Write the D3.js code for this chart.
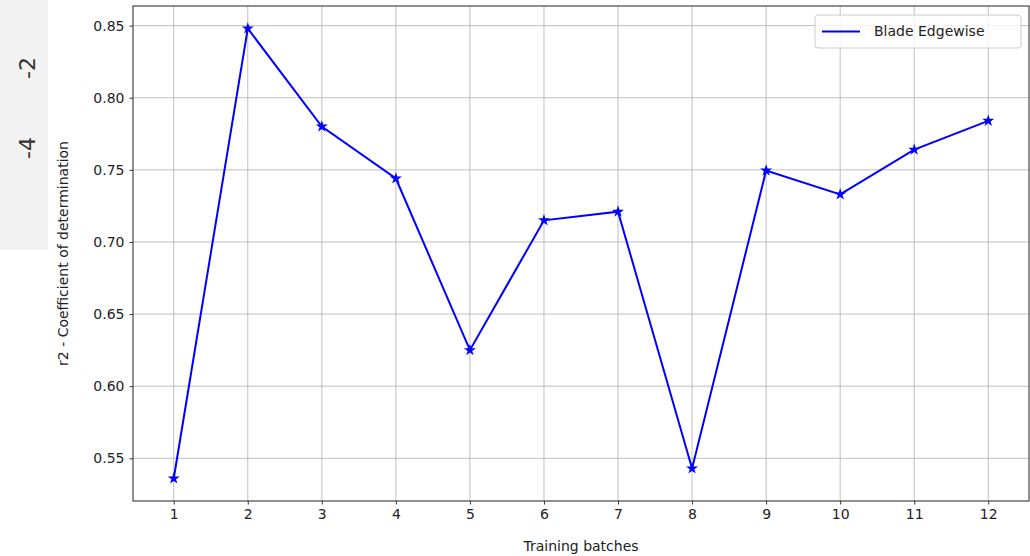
<!DOCTYPE html>
<html>
<head>
<meta charset="utf-8">
<script src="https://cdn.jsdelivr.net/npm/d3@7"></script>
<style>
  html, body { margin: 0; padding: 0; background: #fff; }
  svg { display: block; font-family: "DejaVu Sans", sans-serif; }
</style>
</head>
<body>
<svg id="chart" width="1030" height="556"></svg>
<script>
// data
const batches = [1, 2, 3, 4, 5, 6, 7, 8, 9, 10, 11, 12];
const r2 = [0.536, 0.848, 0.780, 0.744, 0.625, 0.715, 0.721, 0.543, 0.7495, 0.733, 0.764, 0.784];
const yTicks = [0.55, 0.60, 0.65, 0.70, 0.75, 0.80, 0.85];
const seriesName = 'Blade Edgewise';
const sideLabels = ['-2', '-4'];

const svg = d3.select('#chart');
const margin = { left: 133, top: 6, right: 1, bottom: 55 };
const W = 1030, H = 556;
const plotW = W - margin.left - margin.right;
const plotH = H - margin.top - margin.bottom;

// leftover panel on the far left
svg.append('rect')
  .attr('x', 0).attr('y', 0).attr('width', 48).attr('height', 250)
  .attr('fill', '#f2f2f2');
[68, 148].forEach((cy, i) => {
  svg.append('text')
    .attr('transform', `translate(27,${cy}) rotate(-90)`)
    .attr('text-anchor', 'middle')
    .attr('dy', '0.35em')
    .attr('font-size', 22)
    .attr('fill', '#333')
    .text(sideLabels[i]);
});

// matplotlib-style 5% padding
const xPad = (d3.max(batches) - d3.min(batches)) * 0.05;
const yPad = (d3.max(r2) - d3.min(r2)) * 0.05;
const x = d3.scaleLinear()
  .domain([d3.min(batches) - xPad, d3.max(batches) + xPad])
  .range([0, plotW]);
const y = d3.scaleLinear()
  .domain([d3.min(r2) - yPad, d3.max(r2) + yPad])
  .range([plotH, 0]);

const g = svg.append('g').attr('transform', `translate(${margin.left},${margin.top})`);

// grid
g.append('g').selectAll('line')
  .data(batches).join('line')
  .attr('x1', d => x(d)).attr('x2', d => x(d))
  .attr('y1', 0).attr('y2', plotH)
  .attr('stroke', '#b0b0b0').attr('stroke-width', 0.8);
g.append('g').selectAll('line')
  .data(yTicks).join('line')
  .attr('x1', 0).attr('x2', plotW)
  .attr('y1', d => y(d)).attr('y2', d => y(d))
  .attr('stroke', '#b0b0b0').attr('stroke-width', 0.8);

// axes
const xAxis = g.append('g')
  .attr('transform', `translate(0,${plotH})`)
  .call(d3.axisBottom(x).tickValues(batches).tickFormat(d3.format('d')).tickSize(3.5).tickPadding(5));
const yAxis = g.append('g')
  .call(d3.axisLeft(y).tickValues(yTicks).tickFormat(d3.format('.2f')).tickSize(3.5).tickPadding(5));
[xAxis, yAxis].forEach(a => {
  a.select('.domain').remove();
  a.selectAll('text').attr('font-size', 14).attr('fill', '#222').attr('font-family', 'DejaVu Sans');
  a.selectAll('line').attr('stroke', '#222').attr('stroke-width', 0.9);
});

// frame
g.append('rect')
  .attr('width', plotW).attr('height', plotH)
  .attr('fill', 'none').attr('stroke', '#222').attr('stroke-width', 1);

// series
const line = d3.line().x((d, i) => x(batches[i])).y(d => y(d));
g.append('path')
  .datum(r2)
  .attr('d', line)
  .attr('fill', 'none')
  .attr('stroke', '#0000ff')
  .attr('stroke-width', 2);

g.append('g').selectAll('path')
  .data(r2).join('path')
  .attr('transform', (d, i) => `translate(${x(batches[i])},${y(d)})`)
  .attr('d', d3.symbol(d3.symbolStar, 45))
  .attr('fill', '#0000ff');

// legend
const leg = g.append('g').attr('transform', `translate(${plotW - 214},${9})`);
leg.append('rect')
  .attr('width', 206).attr('height', 33).attr('rx', 3)
  .attr('fill', '#fff').attr('fill-opacity', 0.8)
  .attr('stroke', '#ccc').attr('stroke-width', 1);
leg.append('line')
  .attr('x1', 7).attr('x2', 45).attr('y1', 16.5).attr('y2', 16.5)
  .attr('stroke', '#0000ff').attr('stroke-width', 2);
leg.append('text')
  .attr('x', 59).attr('y', 16.5).attr('dy', '0.35em')
  .attr('font-size', 14).attr('fill', '#222')
  .text(seriesName);

// axis titles
svg.append('text')
  .attr('x', margin.left + plotW / 2).attr('y', 551)
  .attr('text-anchor', 'middle').attr('font-size', 14).attr('fill', '#222')
  .text('Training batches');
svg.append('text')
  .attr('transform', `translate(68,${margin.top + plotH / 2}) rotate(-90)`)
  .attr('text-anchor', 'middle').attr('font-size', 14).attr('fill', '#222')
  .text('r2 - Coefficient of determination');
</script>
</body>
</html>
